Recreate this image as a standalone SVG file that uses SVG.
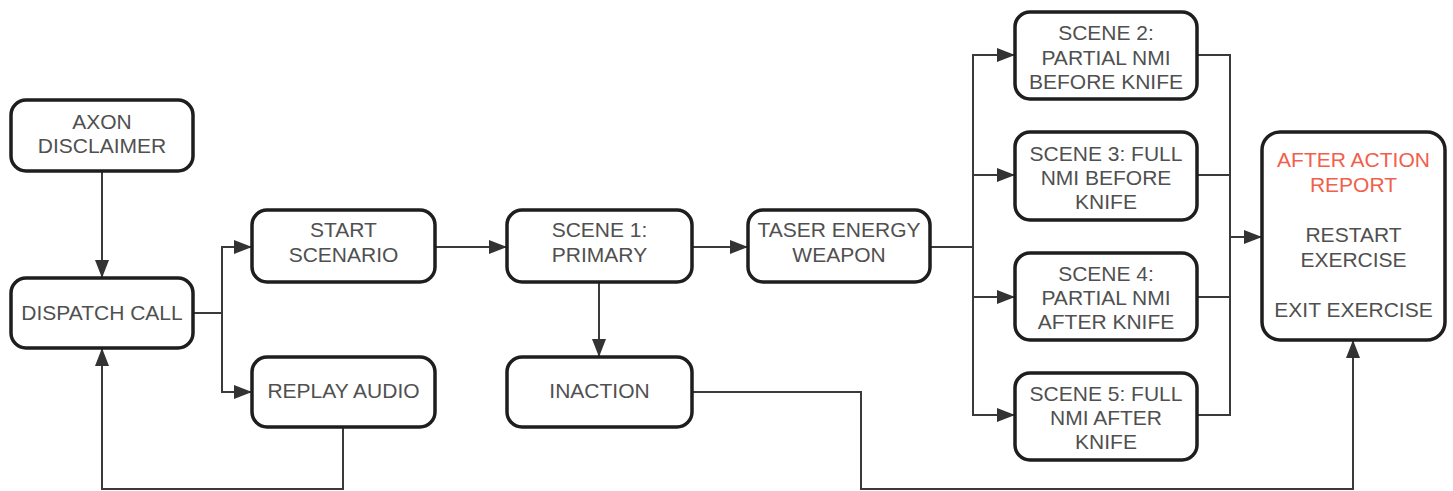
<svg xmlns="http://www.w3.org/2000/svg" width="1453" height="491" viewBox="0 0 1453 491">
<style>
.box{fill:#fff;stroke:#1e1e1e;stroke-width:3.5}
.t{font-family:"Liberation Sans",Arial,sans-serif;font-size:21px;fill:#505050;text-anchor:middle}
.r{fill:#f0604c}
.c{fill:none;stroke:#3a3a3a;stroke-width:2}
</style>
<defs>
<marker id="a" markerUnits="userSpaceOnUse" markerWidth="20" markerHeight="16" refX="18" refY="7" orient="auto">
<path d="M0,0 L18,7 L0,14 z" fill="#333"/>
</marker>
</defs>
<rect width="1453" height="491" fill="#fff"/>
<g id="connectors">
<path class="c" d="M102,171 V278" marker-end="url(#a)"/>
<path class="c" d="M193,313 H222 V247 H252" marker-end="url(#a)"/>
<path class="c" d="M222,313 V392 H252" marker-end="url(#a)"/>
<path class="c" d="M435,247 H507" marker-end="url(#a)"/>
<path class="c" d="M692,247 H748" marker-end="url(#a)"/>
<path class="c" d="M599,282 V357" marker-end="url(#a)"/>
<path class="c" d="M930,247 H973"/>
<path class="c" d="M973,175 V55 H1015" marker-end="url(#a)"/>
<path class="c" d="M973,175 H1015" marker-end="url(#a)"/>
<path class="c" d="M973,175 V297 H1015" marker-end="url(#a)"/>
<path class="c" d="M973,297 V415 H1015" marker-end="url(#a)"/>
<path class="c" d="M1197,55 H1230 V415 H1197"/>
<path class="c" d="M1197,175 H1230"/>
<path class="c" d="M1197,297 H1230"/>
<path class="c" d="M1230,237 H1262" marker-end="url(#a)"/>
<path class="c" d="M692,392 H861 V489 H1353 V340" marker-end="url(#a)"/>
<path class="c" d="M343,427 V489 H102 V348" marker-end="url(#a)"/>
</g>
<g id="axon">
<rect class="box" x="11" y="100" width="182" height="71" rx="15"/>
<text class="t" x="102" y="129">AXON</text>
<text class="t" x="102" y="153">DISCLAIMER</text>
</g>
<g id="dispatch">
<rect class="box" x="11" y="278" width="182" height="70" rx="15"/>
<text class="t" x="102" y="320">DISPATCH CALL</text>
</g>
<g id="start">
<rect class="box" x="252" y="210" width="183" height="72" rx="15"/>
<text class="t" x="343.5" y="237">START</text>
<text class="t" x="343.5" y="262">SCENARIO</text>
</g>
<g id="replay">
<rect class="box" x="252" y="357" width="183" height="70" rx="15"/>
<text class="t" x="343.5" y="398">REPLAY AUDIO</text>
</g>
<g id="scene1">
<rect class="box" x="507" y="210" width="185" height="72" rx="15"/>
<text class="t" x="599.5" y="237">SCENE 1:</text>
<text class="t" x="599.5" y="262">PRIMARY</text>
</g>
<g id="inaction">
<rect class="box" x="507" y="357" width="185" height="70" rx="15"/>
<text class="t" x="599.5" y="398">INACTION</text>
</g>
<g id="taser">
<rect class="box" x="748" y="210" width="182" height="72" rx="15"/>
<text class="t" x="839" y="237">TASER ENERGY</text>
<text class="t" x="839" y="262">WEAPON</text>
</g>
<g id="scene2">
<rect class="box" x="1015" y="12" width="182" height="87" rx="15"/>
<text class="t" x="1106" y="40">SCENE 2:</text>
<text class="t" x="1106" y="64.5">PARTIAL NMI</text>
<text class="t" x="1106" y="89">BEFORE KNIFE</text>
</g>
<g id="scene3">
<rect class="box" x="1015" y="132" width="182" height="88" rx="15"/>
<text class="t" x="1106" y="161">SCENE 3: FULL</text>
<text class="t" x="1106" y="185">NMI BEFORE</text>
<text class="t" x="1106" y="209">KNIFE</text>
</g>
<g id="scene4">
<rect class="box" x="1015" y="253" width="182" height="87" rx="15"/>
<text class="t" x="1106" y="281">SCENE 4:</text>
<text class="t" x="1106" y="305">PARTIAL NMI</text>
<text class="t" x="1106" y="329">AFTER KNIFE</text>
</g>
<g id="scene5">
<rect class="box" x="1015" y="373" width="182" height="87" rx="15"/>
<text class="t" x="1106" y="401">SCENE 5: FULL</text>
<text class="t" x="1106" y="425">NMI AFTER</text>
<text class="t" x="1106" y="449">KNIFE</text>
</g>
<g id="afteraction">
<rect class="box" x="1262" y="132" width="183" height="208" rx="18"/>
<text class="t r" x="1353.5" y="167">AFTER ACTION</text>
<text class="t r" x="1353.5" y="192">REPORT</text>
<text class="t" x="1353.5" y="242">RESTART</text>
<text class="t" x="1353.5" y="267">EXERCISE</text>
<text class="t" x="1353.5" y="317">EXIT EXERCISE</text>
</g>
</svg>
